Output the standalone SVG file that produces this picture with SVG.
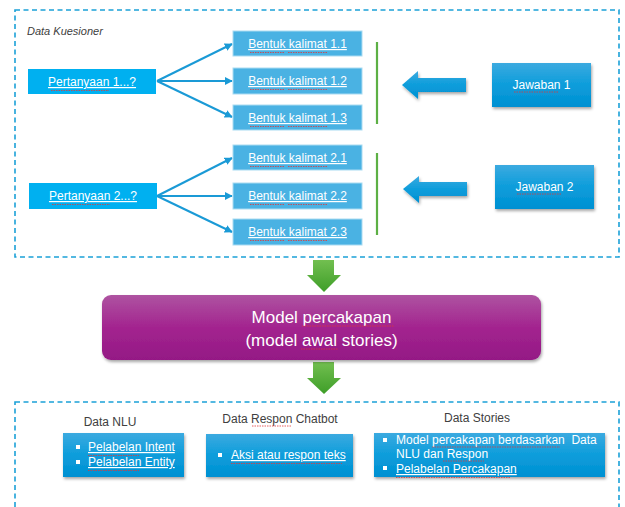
<svg xmlns="http://www.w3.org/2000/svg" width="625" height="507" viewBox="0 0 625 507">
<style>
text{font-family:"Liberation Sans",Arial,sans-serif;}
.frame{fill:none;stroke:#1BA1D8;stroke-width:1.6;stroke-dasharray:5 3.5;}
.q{fill:#00B0F0;}
.b{fill:#4AB2E3;stroke:#A9DBF2;stroke-width:1;}
.wt{fill:#FFFFFF;font-size:12px;text-anchor:middle;text-decoration:underline;}
.wl{fill:#FFFFFF;font-size:12px;}
.lbl{fill:#404040;font-size:12px;}
.con{fill:none;stroke:#1A9AD6;stroke-width:2;}
.green{stroke:#5DB045;stroke-width:2.2;}
.sq{fill:none;stroke:#E03838;stroke-width:0.8;stroke-dasharray:1.5 1;}
.blk{fill:url(#gBlue);filter:url(#sh);}
</style>
<defs>
<linearGradient id="gBlue" x1="0" y1="0" x2="0" y2="1">
<stop offset="0" stop-color="#3CAAE0"/><stop offset="0.5" stop-color="#0C9DDB"/><stop offset="1" stop-color="#0090D2"/>
</linearGradient>
<linearGradient id="gPurple" x1="0" y1="0" x2="0" y2="1">
<stop offset="0" stop-color="#AE53A1"/><stop offset="0.5" stop-color="#A3248F"/><stop offset="1" stop-color="#941985"/>
</linearGradient>
<linearGradient id="gGreen" x1="0" y1="0" x2="0" y2="1">
<stop offset="0" stop-color="#72BF50"/><stop offset="1" stop-color="#3E9E28"/>
</linearGradient>
<filter id="sh" x="-10%" y="-20%" width="125%" height="150%">
<feDropShadow dx="1" dy="2" stdDeviation="1.5" flood-color="#000" flood-opacity="0.35"/>
</filter>
<marker id="ah" viewBox="0 0 10 10" refX="9" refY="5" markerWidth="4" markerHeight="4" orient="auto">
<path d="M0,0 L10,5 L0,10 z" fill="#1A9AD6"/>
</marker>
</defs>

<rect class="frame" x="15" y="10" width="604" height="247"/>
<text x="27" y="35" style="font-style:italic;font-size:11px;fill:#404040">Data Kuesioner</text>

<g id="connectors">
<line class="con" x1="157" y1="81" x2="232" y2="44" marker-end="url(#ah)"/>
<line class="con" x1="157" y1="81" x2="232" y2="81" marker-end="url(#ah)"/>
<line class="con" x1="157" y1="81" x2="232" y2="117" marker-end="url(#ah)"/>
<line class="con" x1="157" y1="196" x2="232" y2="158" marker-end="url(#ah)"/>
<line class="con" x1="157" y1="196" x2="232" y2="196" marker-end="url(#ah)"/>
<line class="con" x1="157" y1="196" x2="232" y2="232" marker-end="url(#ah)"/>
<line class="green" x1="377" y1="42" x2="377" y2="124"/>
<line class="green" x1="377" y1="153" x2="377" y2="235"/>
<path class="blk" d="M402,85 L418,71 L418,78 L466,78 L466,92 L418,92 L418,99 Z"/>
<path class="blk" d="M403,189 L419,176 L419,182 L467,182 L467,196 L419,196 L419,203 Z"/>
<path d="M313,260 L334,260 L334,275 L341,275 L324,292 L307,275 L313,275 Z" fill="url(#gGreen)"/>
<path d="M313,362 L334,362 L334,378 L341,378 L324,394 L307,378 L313,378 Z" fill="url(#gGreen)"/>
</g>

<g id="pertanyaan1">
<rect class="q" x="28" y="69" width="128" height="25"/>
<text class="wt" x="92" y="86">Pertanyaan 1...?</text>
<path class="sq" d="M51,90.5 H109"/>
</g>
<g id="pertanyaan2">
<rect class="q" x="29" y="183" width="128" height="26"/>
<text class="wt" x="93" y="200">Pertanyaan 2...?</text>
<path class="sq" d="M52,204.5 H110"/>
</g>

<g id="bentuk11"><rect class="b" x="233" y="31" width="129" height="25"/><text class="wt" x="297.5" y="48">Bentuk kalimat 1.1</text><path class="sq" d="M250,52.5 H284 M288,52.5 H328"/></g>
<g id="bentuk12"><rect class="b" x="233" y="68" width="129" height="26"/><text class="wt" x="297.5" y="85">Bentuk kalimat 1.2</text><path class="sq" d="M250,89.5 H284 M288,89.5 H328"/></g>
<g id="bentuk13"><rect class="b" x="233" y="105" width="129" height="25"/><text class="wt" x="297.5" y="122">Bentuk kalimat 1.3</text><path class="sq" d="M250,126.5 H284 M288,126.5 H328"/></g>
<g id="bentuk21"><rect class="b" x="233" y="145" width="129" height="25"/><text class="wt" x="297.5" y="162">Bentuk kalimat 2.1</text><path class="sq" d="M250,166.5 H284 M288,166.5 H328"/></g>
<g id="bentuk22"><rect class="b" x="233" y="183" width="129" height="26"/><text class="wt" x="297.5" y="200">Bentuk kalimat 2.2</text><path class="sq" d="M250,204.5 H284 M288,204.5 H328"/></g>
<g id="bentuk23"><rect class="b" x="233" y="219" width="129" height="26"/><text class="wt" x="297.5" y="236">Bentuk kalimat 2.3</text><path class="sq" d="M250,240.5 H284 M288,240.5 H328"/></g>

<g id="jawaban1">
<rect class="blk" x="492" y="63" width="99" height="44"/>
<text class="wl" x="541.5" y="89" text-anchor="middle">Jawaban 1</text>
<path class="sq" d="M514,92 H559"/>
</g>
<g id="jawaban2">
<rect class="blk" x="495" y="165" width="99" height="44"/>
<text class="wl" x="544.5" y="191" text-anchor="middle">Jawaban 2</text>
<path class="sq" d="M517,194 H562"/>
</g>

<g id="model">
<rect x="102" y="295" width="439" height="65" rx="9" fill="url(#gPurple)" filter="url(#sh)"/>
<text x="321.5" y="323" fill="#FFFFFF" font-size="17" text-anchor="middle">Model percakapan</text>
<text x="321.5" y="346" fill="#FFFFFF" font-size="17" text-anchor="middle">(model awal stories)</text>
<path class="sq" d="M302,326 H394 M301,349 H338"/>
</g>

<rect class="frame" x="15" y="402" width="604" height="120"/>

<g id="dataNLU">
<text class="lbl" x="110" y="426" text-anchor="middle">Data NLU</text>
<rect class="blk" x="63" y="433" width="121" height="44"/>
<rect x="76" y="445" width="4" height="4" fill="#FFF"/>
<rect x="76" y="460" width="4" height="4" fill="#FFF"/>
<text class="wl" x="88" y="451" text-decoration="underline">Pelabelan Intent</text>
<text class="wl" x="88" y="466" text-decoration="underline">Pelabelan Entity</text>
<path class="sq" d="M88,455.5 H139 M88,470.5 H139"/>
</g>

<g id="dataRespon">
<text class="lbl" x="280" y="423" text-anchor="middle">Data Respon Chatbot</text>
<path class="sq" d="M252,426 H292"/>
<rect class="blk" x="206" y="434" width="147" height="43"/>
<rect x="218" y="453" width="4" height="4" fill="#FFF"/>
<text class="wl" x="231" y="459" text-decoration="underline">Aksi atau respon teks</text>
<path class="sq" d="M231,463.5 H342"/>
</g>

<g id="dataStories">
<text class="lbl" x="477" y="422" text-anchor="middle">Data Stories</text>
<rect class="blk" x="374" y="433" width="231" height="44"/>
<rect x="383" y="438" width="4" height="4" fill="#FFF"/>
<rect x="383" y="466" width="4" height="4" fill="#FFF"/>
<text class="wl" x="396" y="444">Model percakapan berdasarkan&#160; Data</text>
<text class="wl" x="396" y="458">NLU dan Respon</text>
<text class="wl" x="396" y="473" text-decoration="underline">Pelabelan Percakapan</text>
<path class="sq" d="M432,447 H560 M443,461 H484 M396,477.5 H511"/>
</g>
</svg>
